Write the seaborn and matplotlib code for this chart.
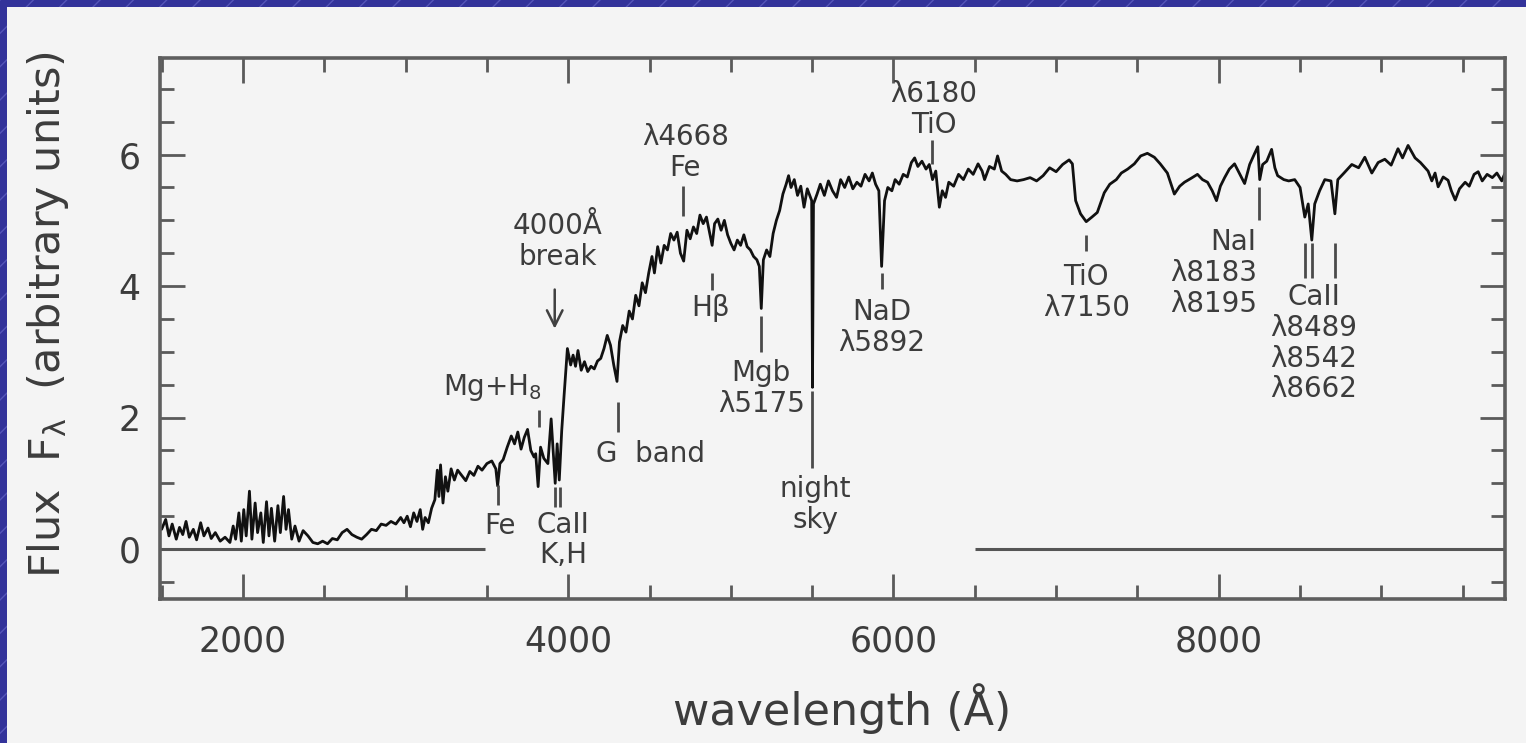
import matplotlib
matplotlib.use("Agg")
import matplotlib.pyplot as plt
import seaborn as sns
import pandas as pd
from matplotlib.patches import Rectangle
from matplotlib.ticker import MultipleLocator

# ---------------- data ----------------
wavelength = [
    1500, 1525, 1545, 1565, 1590, 1610, 1630, 1650, 1670, 1695, 1715, 1740, 1760, 1785,
    1805, 1830, 1860, 1890, 1920, 1940, 1955, 1975, 1990, 2005, 2020, 2040, 2055, 2075,
    2090, 2110, 2125, 2145, 2160, 2175, 2195, 2215, 2230, 2250, 2265, 2280, 2300, 2320,
    2345, 2370, 2400, 2430, 2460, 2490, 2520, 2550, 2580, 2610, 2640, 2670, 2700, 2730,
    2760, 2790, 2820, 2850, 2880, 2910, 2940, 2970, 2990, 3010, 3030, 3050, 3070, 3090,
    3105, 3120, 3140, 3160, 3180, 3195, 3205, 3215, 3230, 3245, 3260, 3280, 3300, 3320,
    3345, 3370, 3395, 3420, 3445, 3470, 3500, 3530, 3555, 3566, 3580, 3600, 3625, 3650,
    3670, 3690, 3710, 3730, 3750, 3770, 3790, 3800, 3815, 3830, 3850, 3875, 3895, 3910,
    3920, 3932, 3945, 3960, 3975, 3995, 4015, 4030, 4045, 4060, 4080, 4100, 4120, 4140,
    4160, 4180, 4200, 4220, 4240, 4260, 4280, 4300, 4315, 4335, 4355, 4375, 4395, 4415,
    4435, 4455, 4475, 4495, 4515, 4530, 4550, 4570, 4590, 4610, 4630, 4650, 4670, 4690,
    4710, 4730, 4750, 4770, 4790, 4810, 4830, 4850, 4870, 4885, 4900, 4920, 4940, 4960,
    4980, 5000, 5020, 5040, 5060, 5080, 5100, 5120, 5140, 5160, 5175, 5187, 5200, 5220,
    5240, 5260, 5280, 5300, 5320, 5340, 5355, 5370, 5390, 5410, 5430, 5450, 5470, 5490,
    5497, 5502, 5508, 5530, 5550, 5575, 5600, 5625, 5650, 5675, 5700, 5725, 5750, 5775,
    5800, 5825, 5850, 5870, 5890, 5910, 5927, 5945, 5965, 5990, 6010, 6035, 6060, 6085,
    6110, 6130, 6150, 6175, 6200, 6220, 6240, 6260, 6282, 6300, 6320, 6340, 6370, 6400,
    6430, 6460, 6490, 6520, 6545, 6560, 6590, 6620, 6640, 6665, 6690, 6720, 6760, 6800,
    6840, 6880, 6920, 6960, 7000, 7040, 7080, 7100, 7120, 7150, 7185, 7220, 7253, 7296,
    7330, 7370, 7401, 7440, 7481, 7520, 7561, 7604, 7640, 7684, 7727, 7760, 7789, 7830,
    7869, 7900, 7931, 7960, 7986, 8010, 8036, 8065, 8097, 8130, 8159, 8190, 8221, 8240,
    8252, 8270, 8295, 8325, 8345, 8362, 8400, 8430, 8467, 8500, 8529, 8550, 8572, 8590,
    8620, 8652, 8690, 8714, 8732, 8770, 8818, 8860, 8898, 8941, 8980, 9021, 9060, 9102,
    9130, 9164, 9207, 9240, 9287, 9310, 9330, 9349, 9380, 9410, 9430, 9454, 9480, 9515,
    9540, 9570, 9595, 9620, 9650, 9682, 9710, 9740, 9760,
]
flux = [
    0.30, 0.45, 0.20, 0.38, 0.15, 0.33, 0.22, 0.42, 0.18, 0.30, 0.14, 0.40, 0.20, 0.32,
    0.16, 0.25, 0.12, 0.18, 0.10, 0.35, 0.15, 0.55, 0.12, 0.60, 0.20, 0.88, 0.15, 0.70,
    0.25, 0.55, 0.10, 0.72, 0.20, 0.62, 0.12, 0.66, 0.25, 0.80, 0.30, 0.60, 0.15, 0.35,
    0.12, 0.28, 0.20, 0.10, 0.08, 0.12, 0.08, 0.16, 0.14, 0.25, 0.30, 0.22, 0.18, 0.15,
    0.22, 0.30, 0.28, 0.38, 0.36, 0.42, 0.38, 0.48, 0.40, 0.50, 0.34, 0.55, 0.42, 0.60,
    0.30, 0.48, 0.40, 0.62, 0.75, 1.20, 0.80, 1.28, 0.70, 1.10, 0.88, 1.22, 1.05, 1.20,
    1.12, 1.04, 1.18, 1.12, 1.26, 1.20, 1.30, 1.34, 1.22, 0.96, 1.30, 1.36, 1.55, 1.72,
    1.60, 1.78, 1.52, 1.70, 1.82, 1.50, 1.40, 1.45, 0.95, 1.55, 1.38, 1.30, 1.98, 1.40,
    1.00, 1.60, 1.05, 1.80, 2.35, 3.05, 2.80, 2.95, 2.78, 3.02, 2.72, 2.85, 2.70, 2.78,
    2.74, 2.86, 2.90, 3.05, 3.25, 3.10, 2.80, 2.55, 3.15, 3.40, 3.30, 3.62, 3.50, 3.86,
    3.70, 4.05, 3.90, 4.20, 4.45, 4.20, 4.60, 4.35, 4.62, 4.55, 4.80, 4.70, 4.82, 4.50,
    4.38, 4.85, 4.72, 4.90, 4.80, 5.08, 4.95, 5.05, 4.80, 4.62, 4.95, 5.02, 4.85, 5.00,
    4.78, 4.65, 4.55, 4.70, 4.62, 4.78, 4.60, 4.55, 4.45, 4.40, 4.30, 3.66, 4.40, 4.55,
    4.45, 4.80, 5.00, 5.15, 5.40, 5.55, 5.68, 5.50, 5.62, 5.38, 5.52, 5.20, 5.48, 5.35,
    5.30, 2.46, 5.25, 5.40, 5.55, 5.38, 5.60, 5.45, 5.35, 5.62, 5.50, 5.66, 5.48, 5.58,
    5.52, 5.70, 5.60, 5.72, 5.55, 5.45, 4.30, 5.30, 5.50, 5.45, 5.62, 5.55, 5.70, 5.66,
    5.88, 5.95, 5.82, 5.90, 5.78, 5.85, 5.62, 5.75, 5.20, 5.45, 5.35, 5.58, 5.52, 5.70,
    5.62, 5.78, 5.70, 5.86, 5.75, 5.62, 5.82, 5.78, 5.98, 5.75, 5.70, 5.62, 5.60, 5.62,
    5.65, 5.60, 5.68, 5.80, 5.74, 5.85, 5.92, 5.86, 5.30, 5.10, 4.98, 5.05, 5.12, 5.42,
    5.55, 5.62, 5.72, 5.78, 5.86, 5.98, 6.02, 5.96, 5.86, 5.72, 5.40, 5.52, 5.58, 5.64,
    5.70, 5.62, 5.58, 5.45, 5.30, 5.52, 5.65, 5.78, 5.86, 5.70, 5.56, 5.85, 6.02, 6.12,
    5.62, 5.85, 5.90, 6.08, 5.80, 5.68, 5.62, 5.60, 5.62, 5.50, 5.05, 5.25, 4.70, 5.25,
    5.45, 5.62, 5.60, 5.10, 5.62, 5.72, 5.85, 5.80, 5.96, 5.72, 5.88, 5.93, 5.84, 6.09,
    5.95, 6.14, 5.95, 5.88, 5.75, 5.60, 5.72, 5.51, 5.66, 5.61, 5.45, 5.31, 5.48, 5.58,
    5.52, 5.70, 5.74, 5.60, 5.70, 5.65, 5.72, 5.60, 5.72,
]

# zero-flux reference segments
zero_start = [1490, 6500]
zero_end = [3486, 9760]

# feature tick marks (wavelength, bottom and top of tick)
feature_x = [3566, 3819, 3917, 3948, 4306, 4706, 4885, 5187, 5502, 5927, 6235, 7185,
             8250, 8529, 8572, 8714]
feature_y0 = [0.67, 1.86, 0.64, 0.64, 1.78, 5.06, 3.94, 3.00, 1.24, 3.96, 5.85, 4.54,
              5.00, 4.13, 4.13, 4.13]
feature_y1 = [0.97, 2.11, 0.95, 0.95, 2.23, 5.52, 4.20, 3.55, 2.40, 4.20, 6.22, 4.78,
              5.51, 4.65, 4.65, 4.65]

# feature labels
label_text = ["Fe", "Mg+H$_8$", "CaII\nK,H", "4000Å\nbreak", "G  band", "λ4668\nFe",
              "Hβ", "Mgb\nλ5175", "night\nsky", "NaD\nλ5892", "λ6180\nTiO",
              "TiO\nλ7150", "NaI\nλ8183\nλ8195", "CaII\nλ8489\nλ8542\nλ8662"]
label_x = [3578, 3535, 3967, 3936, 4503, 4719, 4873, 5187, 5520, 5927, 6248, 7185,
           8233, 8584]
label_y = [0.35, 2.45, 0.135, 4.675, 1.45, 6.035, 3.67, 2.44, 0.68, 3.37, 6.69, 3.90,
           4.20, 3.13]
label_ha = ["center"] * 12 + ["right", "center"]

# 4000 Å break arrow (wavelength, from, to)
arrow_x = 3917
arrow_from = 3.99
arrow_to = 3.31

x_ticks = [2000, 4000, 6000, 8000]
y_ticks = [0, 2, 4, 6]
x_limits = (1490, 9760)
y_limits = (-0.76, 7.47)

# ---------------- figure ----------------
sns.set_style("ticks")
plt.rcParams["font.family"] = ["DejaVu Sans"]
plt.rcParams["mathtext.default"] = "regular"
plt.rcParams["hatch.linewidth"] = 1.0

W, H = 1526, 743
fig = plt.figure(figsize=(W / 100, H / 100), dpi=100)
fig.patch.set_facecolor("#33339a")
fig.patches.append(Rectangle((0, 0), 1, 1, transform=fig.transFigure,
                             facecolor="#33339a", edgecolor="#5656b8",
                             hatch="/", linewidth=0, zorder=-3))
fig.patches.append(Rectangle((7 / W, 0), 1, 1 - 7 / H, transform=fig.transFigure,
                             facecolor="#f4f4f4", edgecolor="none", zorder=-2))

L, R, T, B = 160, 1505, 58, 599
ax = fig.add_axes([L / W, 1 - B / H, (R - L) / W, (B - T) / H])
ax.set_facecolor("none")
ax.set_zorder(1)

ink = "#3c3c3c"
spec = pd.DataFrame({"wavelength": wavelength, "flux": flux})
sns.lineplot(data=spec, x="wavelength", y="flux", ax=ax, color="#111111",
             linewidth=2.0, estimator=None, sort=False)

for xs, xe in zip(zero_start, zero_end):
    ax.plot([xs, xe], [0, 0], color="#555555", linewidth=2.2, solid_capstyle="butt")

ax.vlines(feature_x, feature_y0, feature_y1, color="#4a4a4a", linewidth=2.0)

for t, x, y, ha in zip(label_text, label_x, label_y, label_ha):
    ax.text(x, y, t, ha=ha, va="center", fontsize=20, color=ink,
            linespacing=1.12, multialignment=ha)

ax.annotate("", xy=(arrow_x, arrow_to), xytext=(arrow_x, arrow_from),
            arrowprops=dict(arrowstyle="->", color="#404040", lw=1.8,
                            mutation_scale=28))

ax.set_xlim(*x_limits)
ax.set_ylim(*y_limits)
ax.set_xticks(x_ticks)
ax.set_yticks(y_ticks)
ax.xaxis.set_minor_locator(MultipleLocator(500))
ax.yaxis.set_minor_locator(MultipleLocator(0.5))
ax.tick_params(which="both", direction="in", top=True, right=True,
               colors="#5a5a5a", labelcolor=ink, width=2)
ax.tick_params(which="major", length=18, labelsize=25)
ax.tick_params(which="minor", length=10)
ax.tick_params(axis="x", which="major", pad=18)
ax.tick_params(axis="y", which="major", pad=14)
for s in ax.spines.values():
    s.set_color("#5e5e5e")
    s.set_linewidth(2.6)

ax.set_xlabel("wavelength (Å)", fontsize=32, color=ink)
ax.xaxis.set_label_coords(0.507, -0.155)
ax.set_ylabel("Flux  F$_λ$  (arbitrary units)", fontsize=31, color=ink)
ax.yaxis.set_label_coords(-0.066, 0.525)

fig.savefig("out.png", dpi=100, facecolor=fig.get_facecolor())
